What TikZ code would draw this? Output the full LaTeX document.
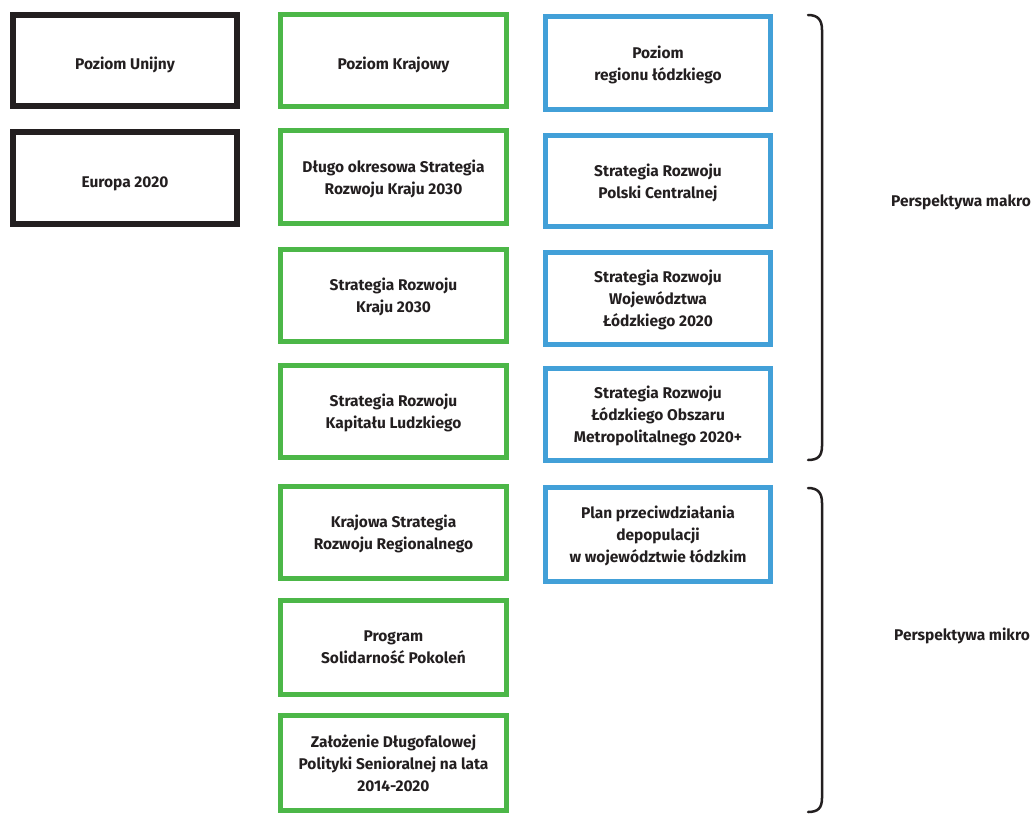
\documentclass[tikz,border=0pt]{standalone}
\usepackage{fontspec}
\setmainfont{Fira Sans}
\definecolor{boxblack}{HTML}{231F20}
\definecolor{boxgreen}{HTML}{4CB748}
\definecolor{boxblue}{HTML}{42A0D8}
\definecolor{txt}{HTML}{231F20}
\begin{document}
\begin{tikzpicture}[x=1pt,y=-1pt,
  every node/.style={font=\fontsize{15.5}{22}\selectfont\bfseries, text=txt, align=center, inner sep=0pt, text depth=0pt},
  oneline/.style={text height=18pt},
  bbox/.style={draw=boxblack, line width=6pt, minimum width=224pt},
  gbox/.style={draw=boxgreen, line width=5pt, minimum width=226pt},
  lbox/.style={draw=boxblue, line width=5pt, minimum width=225pt},
  brace/.style={draw=boxblack, line width=2.5pt, line cap=round}]
\useasboundingbox (0,0) rectangle (1035,814);
% black column
\node[bbox, oneline, minimum height=91pt] (u1) at (125,60.5) {Poziom Unijny};
\node[bbox, oneline, minimum height=92pt] (u2) at (125,178) {Europa 2020};
% green column
\node[gbox, oneline, minimum height=92pt] (k1) at (393.5,60.5) {Poziom Krajowy};
\node[gbox, minimum height=93pt] (k2) at (393.5,177) {Długo okresowa Strategia\\Rozwoju Kraju 2030};
\node[gbox, minimum height=92pt] (k3) at (393.5,295.5) {Strategia Rozwoju\\Kraju 2030};
\node[gbox, minimum height=92pt] (k4) at (393.5,411.5) {Strategia Rozwoju\\Kapitału Ludzkiego};
\node[gbox, minimum height=92pt] (k5) at (393.5,532.5) {Krajowa Strategia\\Rozwoju Regionalnego};
\node[gbox, minimum height=94pt] (k6) at (393.5,647.5) {Program\\Solidarność Pokoleń};
\node[gbox, minimum height=95pt] (k7) at (393.5,763) {Założenie Długofalowej\\Polityki Senioralnej na lata\\2014-2020};
% blue column
\node[lbox, minimum height=93pt] (r1) at (658,63) {Poziom\\regionu łódzkiego};
\node[lbox, minimum height=91pt] (r2) at (658,181) {Strategia Rozwoju\\Polski Centralnej};
\node[lbox, minimum height=92pt] (r3) at (658,298.5) {Strategia Rozwoju\\Województwa\\Łódzkiego 2020};
\node[lbox, minimum height=92pt] (r4) at (658,414.5) {Strategia Rozwoju\\Łódzkiego Obszaru\\Metropolitalnego 2020+};
\node[lbox, minimum height=94pt] (r5) at (658,534.5) {Plan przeciwdziałania\\depopulacji\\w województwie łódzkim};
% braces
\draw[brace] (808,15) .. controls (818,15) and (822,20) .. (822,30) -- (822,446) .. controls (822,456) and (818,460) .. (808,460);
\draw[brace] (808,488) .. controls (818,488) and (822,493) .. (822,503) -- (822,798) .. controls (822,808) and (818,812) .. (808,812);
\node (makro) at (961,201) {Perspektywa makro};
\node (mikro) at (962,634) {Perspektywa mikro};
\end{tikzpicture}
\end{document}
